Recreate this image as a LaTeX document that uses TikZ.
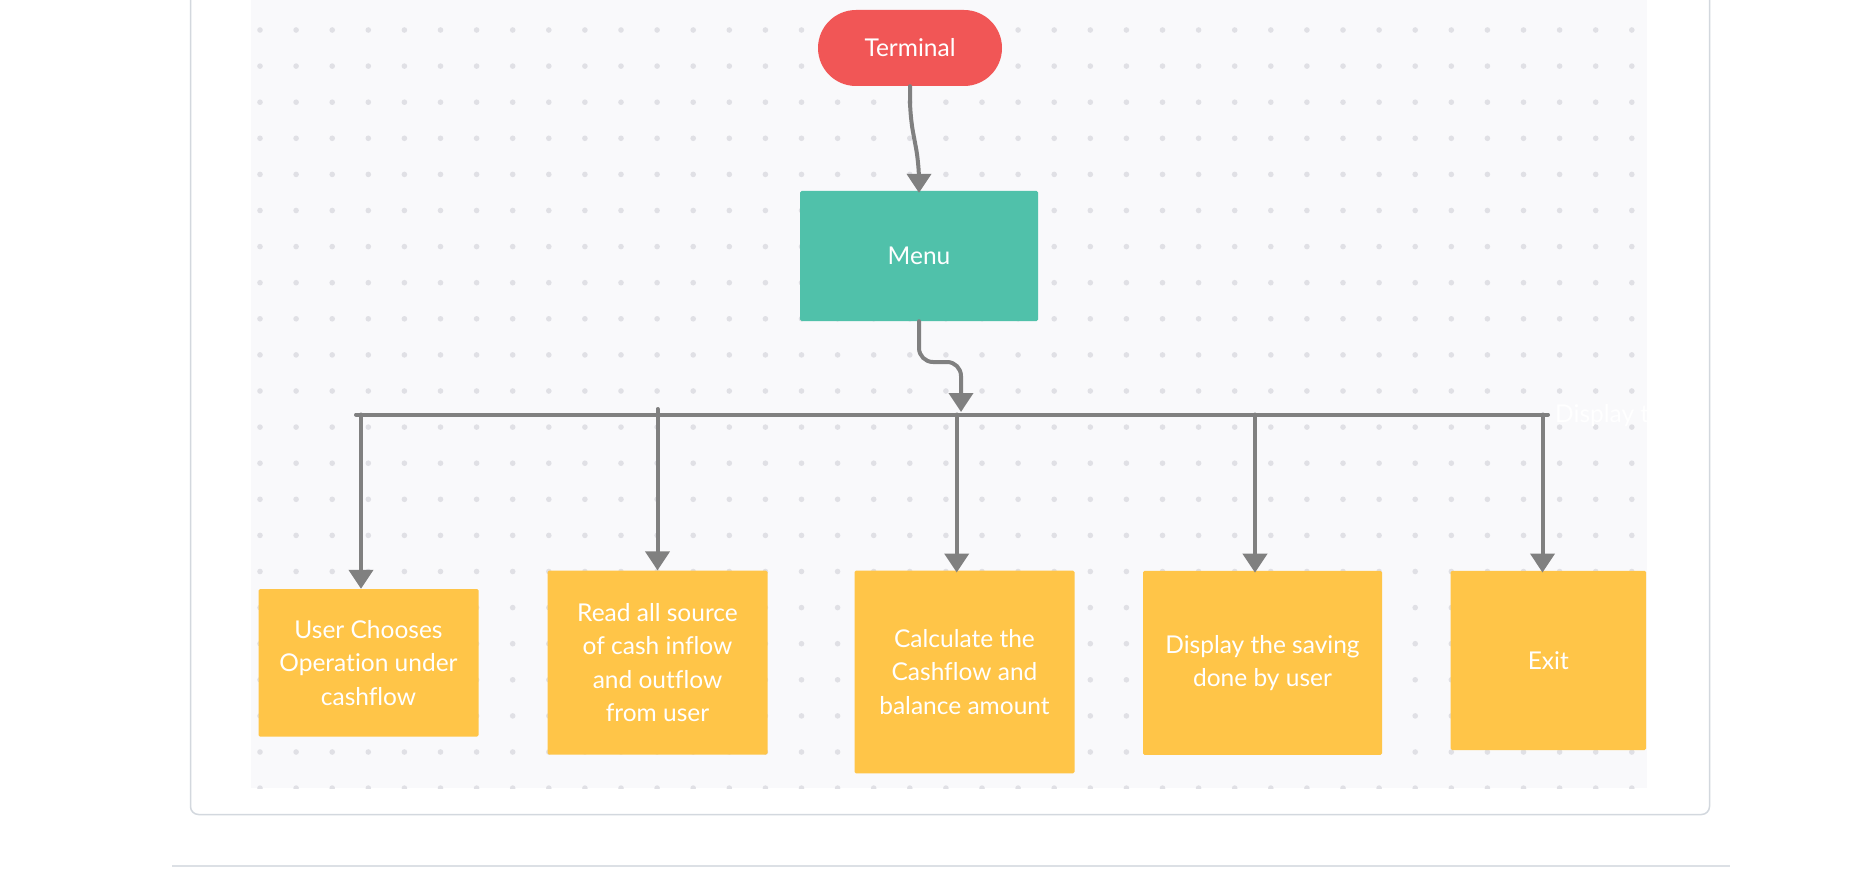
\documentclass[tikz,border=0pt]{standalone}
\usepackage{fontspec}
\newfontfamily\lato[Ligatures={NoCommon}]{Lato}
\usetikzlibrary{arrows.meta,calc}
\definecolor{termred}{HTML}{F15656}
\definecolor{menuteal}{HTML}{50C1AA}
\definecolor{boxamber}{HTML}{FFC548}
\definecolor{linegray}{HTML}{808080}
\definecolor{canvasbg}{HTML}{F9F9FB}
\definecolor{dotgray}{HTML}{E0E0E5}
\definecolor{cardline}{HTML}{D3D8DE}
\definecolor{ruleline}{HTML}{DCE0E5}
\tikzset{
  lbl/.style={text=white, font=\lato\fontsize{24.5}{33.5}\selectfont, align=center, inner sep=0pt},
  opbox/.style={lbl, fill=boxamber, rounded corners=1.5pt},
  conn/.style={draw=linegray, line width=4pt, line cap=round, line join=round},
  arr/.style={conn, -{Triangle[width=24pt,length=19pt]}},
}
\begin{document}
\begin{tikzpicture}[x=1pt,y=-1pt]
\useasboundingbox (0,0) rectangle (1856,869);
% card and rule
\draw[cardline, line width=1.5pt, rounded corners=8pt] (190.5,-30) rectangle (1709.5,814.5);
\draw[ruleline, line width=2pt] (172,865.5) -- (1730,865.5);
% canvas
\fill[canvasbg] (251,-5) rectangle (1647,788);
\begin{scope}
  \clip (251,-5) rectangle (1647,788);
  \foreach \i in {0,...,38}{
    \foreach \j in {0,...,21}{
      \fill[dotgray] ({260+36.1*\i},{30+36.1*\j}) circle (2.8pt);
    }
  }
  \node[lbl, anchor=west] (ghost) at (1555,416) {Display the saving};
\end{scope}
% nodes
\node[lbl, fill=termred, minimum width=184pt, minimum height=76pt, rounded corners=38pt] (term) at (910,48) {Terminal};
\node[lbl, fill=menuteal, minimum width=238pt, minimum height=130pt, rounded corners=1.5pt] (menu) at (919,256) {Menu};
\node[opbox, minimum width=220pt, minimum height=147.5pt] (b1) at (368.5,662.75) {User Chooses\\Operation under\\cashflow};
\node[opbox, minimum width=220pt, minimum height=184pt] (b2) at (657.5,662.6) {Read all source\\of cash inflow\\and outflow\\from user};
\node[opbox, minimum width=220pt, minimum height=202.6pt] (b3) at (964.5,672) {Calculate the\\Cashflow and\\balance amount};
\node[opbox, minimum width=239pt, minimum height=184pt] (b4) at (1262.5,662.9) {Display the saving\\done by user};
\node[opbox, minimum width=195.5pt, minimum height=179.3pt] (b5) at (1548.3,660.4) {Exit};
% bus coordinates
\coordinate (busL) at (356,414.5);
\coordinate (busR) at (1548,414.5);
\coordinate (t1) at (361,414.5);
\coordinate (t2) at (657.5,409);
\coordinate (t3) at (956.7,414.5);
\coordinate (t4) at (1255,414.5);
\coordinate (t5) at (1542.5,414.5);
\coordinate (mb) at (961,412);
% connectors
\draw[arr, rounded corners=16pt] (term.south) -- (910,116) -- (919,164) -- ($(menu.north)+(0,2)$);
\draw[arr, rounded corners=14pt] (menu.south) -- (919,362) -- (961,362) -- (mb);
\draw[conn] (busL) -- (busR);
\draw[arr] (t1) -- (t1 |- b1.north);
\draw[arr] (t2) -- (t2 |- b2.north);
\draw[arr] (t3) -- ($(t3 |- b3.north)+(0,2)$);
\draw[arr] (t4) -- ($(t4 |- b4.north)+(0,2)$);
\draw[arr] (t5) -- ($(t5 |- b5.north)+(0,2)$);
\end{tikzpicture}
\end{document}
